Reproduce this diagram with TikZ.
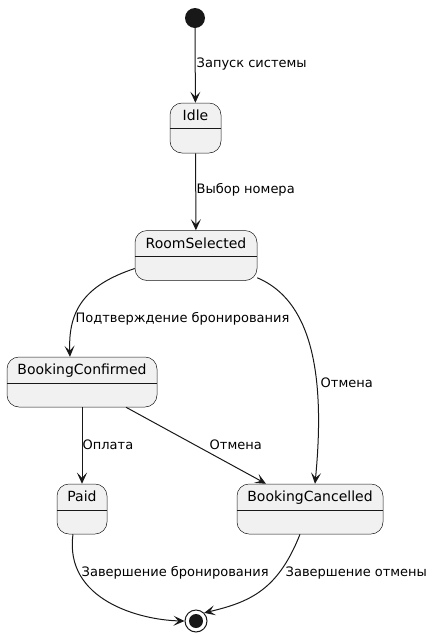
\documentclass[tikz,border=0pt]{standalone}
\usepackage{fontspec}
\setmainfont{DejaVu Sans}
\usetikzlibrary{arrows.meta}
\definecolor{stfill}{HTML}{F1F1F1}
\definecolor{stline}{HTML}{181818}
\begin{document}
\begin{tikzpicture}[x=1pt,y=-1pt,
  statebox/.style={draw=stline, fill=stfill, line width=0.5pt, rounded corners=12pt, inner sep=0pt},
  sttitle/.style={font=\fontsize{14}{16}\selectfont, anchor=base, inner sep=0pt},
  trans/.style={draw=stline, line width=1pt, -{Stealth[length=11pt,width=10pt,inset=5pt]}},
  lbl/.style={font=\fontsize{13}{15}\selectfont, inner sep=1.5pt, text=black, anchor=west}
]
\useasboundingbox (0,0) rectangle (432,638);

% start
\node[circle, fill=stline, minimum size=20pt, inner sep=0pt] (start) at (195,18) {};
% states
\newcommand{\mystate}[6]{%
  \node[statebox, minimum width=#4pt, minimum height=50pt] (#1) at (#2,#3) {};
  \node[sttitle] (#1t) at ([yshift=-18pt]#1.north) {#5};
  \draw[stline, line width=0.5pt] ([yshift=-#6pt]#1.north west) -- ([yshift=-#6pt]#1.north east);
}
\mystate{idle}{195.5}{128}{51}{Idle}{25}
\mystate{room}{196}{255.5}{122}{RoomSelected}{26}
\mystate{bconf}{82}{382}{150}{BookingConfirmed}{26}
\mystate{paid}{82}{509}{50}{Paid}{26}
\mystate{bcanc}{310}{509}{146}{BookingCancelled}{26}

% end
\node[circle, draw=stline, line width=1pt, fill=white, minimum size=22pt, inner sep=0pt] (end) at (196,621) {};
\node[circle, fill=stline, minimum size=14pt, inner sep=0pt] (endin) at (196,621) {};

% labels
\node[lbl] (l1) at (195,64) {Запуск системы};
\node[lbl] (l2) at (195,190) {Выбор номера};
\node[lbl] (l3) at (74,319) {Подтверждение бронирования};
\node[lbl] (l4) at (319,383) {Отмена};
\node[lbl] (l5) at (81,445) {Оплата};
\node[lbl] (l6) at (208,445) {Отмена};
\node[lbl] (l7) at (80,573) {Завершение бронирования};
\node[lbl] (l8) at (284,573) {Завершение отмены};

% transitions
\draw[trans] (start) -- (idle);
\draw[trans] (idle) -- (room);
\draw[trans] ([yshift=-13pt]room.west) .. controls (85,285) and (68,310) .. (bconf.north -| 70,357);
\draw[trans] ([yshift=3pt]room.south east) .. controls (310,300) and (326,370) .. ([xshift=5pt]bcanc.north);
\draw[trans] (bconf.south) -- (paid.north);
\draw[trans] ([xshift=44pt]bconf.south) -- ([xshift=-44pt]bcanc.north);
\draw[trans] ([xshift=-9pt]paid.south) .. controls (64,600) and (140,620) .. (end.west);
\draw[trans] ([xshift=-10pt]bcanc.south) .. controls (278,590) and (250,602) .. (end.north east);
\end{tikzpicture}
\end{document}
